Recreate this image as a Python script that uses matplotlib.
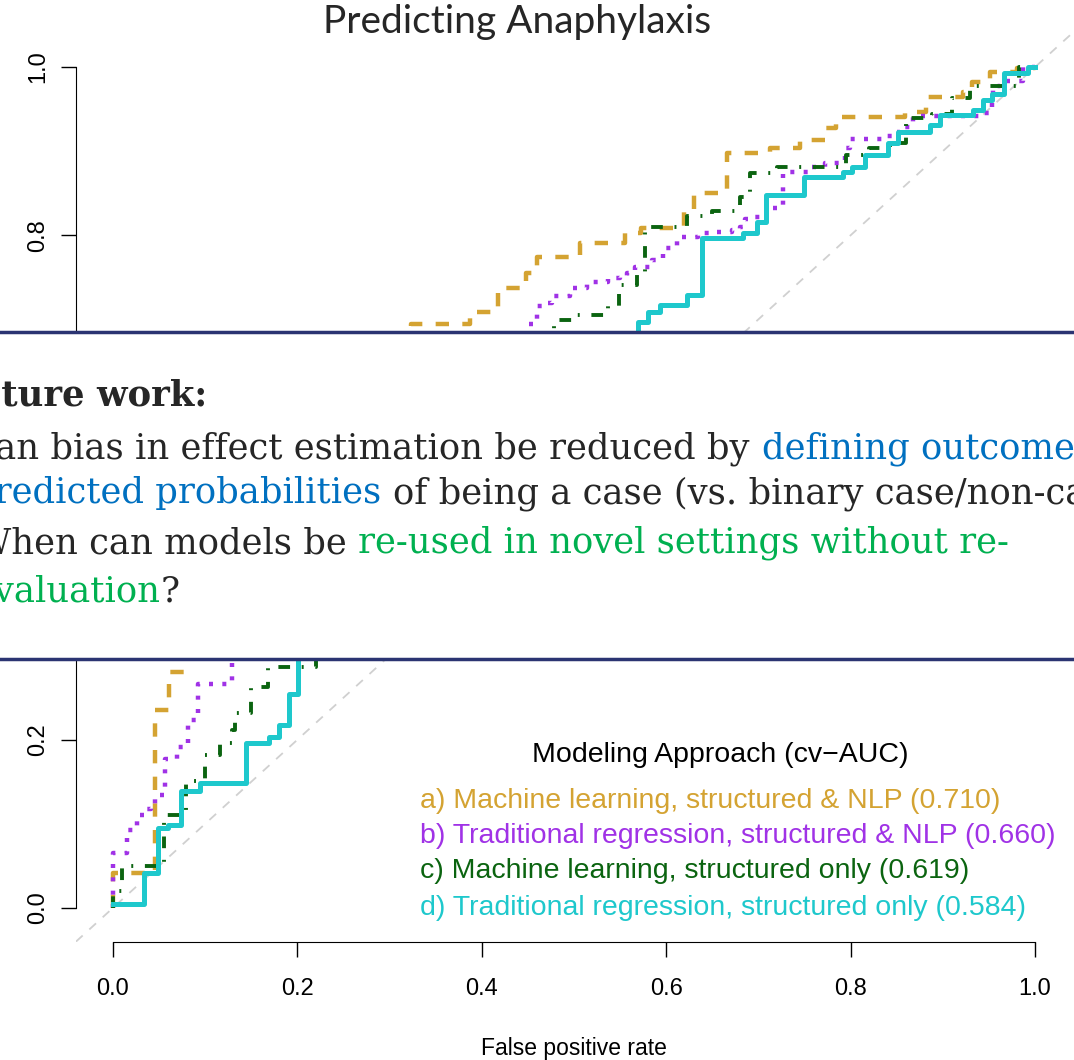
import matplotlib
matplotlib.use('Agg')
import matplotlib.pyplot as plt
from matplotlib.patches import Rectangle

W, H = 1074, 1060

# ROC step corners (fpr, tpr)
fpr_a = [0, 0, 0.046, 0.061, 0.077, 0.15, 0.25, 0.323, 0.387, 0.418, 0.448, 0.460, 0.507, 0.555,
         0.573, 0.619, 0.630, 0.666, 0.713, 0.745, 0.773, 0.784, 0.859, 0.882, 0.922, 0.932,
         0.951, 0.980, 1.0]
tpr_a = [0, 0.042, 0.235, 0.281, 0.36, 0.50, 0.62, 0.694, 0.709, 0.737, 0.755, 0.774, 0.791, 0.803,
         0.809, 0.830, 0.850, 0.898, 0.904, 0.913, 0.928, 0.941, 0.946, 0.964, 0.970, 0.982,
         0.994, 0.999, 1.0]

fpr_b = [0, 0, 0.015, 0.026, 0.035, 0.041, 0.046, 0.056, 0.070, 0.081, 0.092, 0.129, 0.20, 0.30,
         0.40, 0.449, 0.460, 0.471, 0.476, 0.496, 0.514, 0.537, 0.550, 0.557, 0.566, 0.585,
         0.597, 0.612, 0.634, 0.647, 0.671, 0.680, 0.685, 0.696, 0.704, 0.713, 0.727, 0.754,
         0.772, 0.794, 0.799, 0.835, 0.845, 0.854, 0.868, 0.944, 0.953, 0.954, 0.962, 0.987, 1.0]
tpr_b = [0, 0.065, 0.093, 0.111, 0.118, 0.124, 0.134, 0.177, 0.191, 0.224, 0.266, 0.33, 0.45, 0.56,
         0.65, 0.694, 0.716, 0.719, 0.728, 0.737, 0.744, 0.749, 0.751, 0.755, 0.762, 0.770,
         0.785, 0.798, 0.803, 0.804, 0.806, 0.810, 0.819, 0.822, 0.827, 0.832, 0.875, 0.881,
         0.886, 0.904, 0.914, 0.918, 0.923, 0.929, 0.942, 0.945, 0.966, 0.977, 0.983, 1.0, 1.0]

fpr_c = [0, 0, 0.010, 0.055, 0.079, 0.100, 0.116, 0.129, 0.132, 0.150, 0.168, 0.22, 0.32, 0.42,
         0.478, 0.501, 0.537, 0.549, 0.568, 0.577, 0.623, 0.650, 0.680, 0.691, 0.720, 0.795,
         0.820, 0.843, 0.860, 0.888, 0.910, 0.929, 0.982, 1.0]
tpr_c = [0, 0.02, 0.050, 0.111, 0.151, 0.182, 0.196, 0.212, 0.232, 0.263, 0.287, 0.40, 0.52, 0.63,
         0.699, 0.705, 0.716, 0.741, 0.754, 0.810, 0.823, 0.829, 0.846, 0.874, 0.881, 0.895,
         0.904, 0.910, 0.939, 0.944, 0.963, 0.977, 1.0, 1.0]

fpr_d = [0, 0.034, 0.049, 0.060, 0.074, 0.094, 0.144, 0.169, 0.180, 0.191, 0.201, 0.30, 0.45,
         0.569, 0.580, 0.593, 0.623, 0.639, 0.683, 0.698, 0.708, 0.749, 0.792, 0.801, 0.816,
         0.841, 0.851, 0.886, 0.897, 0.933, 0.944, 0.953, 0.966, 0.992, 1.0]
tpr_d = [0.005, 0.042, 0.095, 0.099, 0.139, 0.149, 0.196, 0.203, 0.218, 0.254, 0.33, 0.45, 0.60,
         0.697, 0.709, 0.717, 0.729, 0.797, 0.803, 0.816, 0.848, 0.869, 0.875, 0.881, 0.895,
         0.910, 0.923, 0.931, 0.943, 0.949, 0.961, 0.968, 0.993, 1.0, 1.0]

labels = ['a) Machine learning, structured & NLP (0.710)',
          'b) Traditional regression, structured & NLP (0.660)',
          'c) Machine learning, structured only (0.619)',
          'd) Traditional regression, structured only (0.584)']
colors = ['#D4A332', '#A032E6', '#0B6410', '#1EC8CC']
ticks = [0.0, 0.2, 0.4, 0.6, 0.8, 1.0]
yticklabels = ['0.0', '0.2', '', '', '0.8', '1.0']  # 0.4 / 0.6 sit under the text box

fig = plt.figure(figsize=(W / 100, H / 100), dpi=100)

def fx(x):
    return x / W

def fy(y):
    return 1 - y / H

ax = fig.add_axes([fx(76), fy(941.6), (1072 - 76) / W, (941.6 - 33.4) / H])
ax.set_xlim(-0.04, 1.04)
ax.set_ylim(-0.04, 1.04)

ax.plot([-0.04, 1.04], [-0.04, 1.04], color='#d0d0d0', lw=1.3, ls=(0, (5, 5)))

ax.step(fpr_a, tpr_a, where='post', color=colors[0], lw=3.2, dashes=(3, 3))
ax.step(fpr_b, tpr_b, where='post', color=colors[1], lw=3.2, dashes=(0.9, 2.1))
ax.step(fpr_c, tpr_c, where='post', color=colors[2], lw=2.8, dashes=(3, 3, 0.5, 3))
ax.step(fpr_d, tpr_d, where='post', color=colors[3], lw=3.6)

for s in ['top', 'right']:
    ax.spines[s].set_visible(False)
ax.spines['left'].set_bounds(0, 1)
ax.spines['bottom'].set_bounds(0, 1)
ax.set_xticks(ticks)
ax.set_xticklabels(['%.1f' % t for t in ticks], fontname='Liberation Sans', fontsize=17)
ax.set_yticks(ticks)
ax.set_yticklabels(yticklabels, fontname='Liberation Sans', fontsize=17,
                   rotation=90, va='center')
ax.tick_params(axis='x', length=11, width=1, pad=15)
ax.tick_params(axis='y', length=11, width=1, pad=8)
ax.set_xlabel('False positive rate', fontname='Liberation Sans', fontsize=16.5, labelpad=27)

# legend as coloured text
fig.text(fx(720), fy(755), 'Modeling Approach (cv\u2212AUC)', ha='center', va='center',
         fontname='Liberation Sans', fontsize=20.5, color='black')
for lab, col, yy in zip(labels, colors, [801, 836, 871, 908]):
    fig.text(fx(420), fy(yy), lab, ha='left', va='center', fontname='Liberation Sans',
             fontsize=20.5, color=col)

fig.text(fx(517), fy(22), 'Predicting Anaphylaxis', ha='center', va='center',
         fontname='Lato', fontsize=28, color='#262626')

# slide text box laid over the middle of the plot
navy = '#2B3472'
fig.patches.append(Rectangle((0, fy(659)), 1, fy(332) - fy(659), transform=fig.transFigure,
                             facecolor='white', edgecolor='none', zorder=5))
fig.add_artist(plt.Line2D([0, 1], [fy(332), fy(332)], transform=fig.transFigure,
                          color=navy, lw=2.5, zorder=6))
fig.add_artist(plt.Line2D([0, 1], [fy(659), fy(659)], transform=fig.transFigure,
                          color=navy, lw=2.5, zorder=6))

dark = '#262626'
blue = '#0070C0'
green = '#00B050'
serif = 'DejaVu Serif'
fs = 25.5
# (text, colour, anchor x, alignment, baseline y, bold)
pieces = [
    ('Future work:', dark, 207, 'right', 405, True),
    ('Can bias in effect estimation be reduced by', dark, 750, 'right', 458, False),
    ('defining outcomes as', blue, 762, 'left', 458, False),
    ('predicted probabilities', blue, 381, 'right', 503, False),
    ('of being a case (vs. binary case/non-case)?', dark, 393, 'left', 503, False),
    ('When can models be', dark, 347, 'right', 553, False),
    ('re-used in novel settings without re-', green, 358, 'left', 553, False),
    ('evaluation', green, 160, 'right', 602, False),
    ('?', dark, 161, 'left', 602, False),
]
for txt, col, x, ha, y, bold in pieces:
    fig.text(fx(x), fy(y), txt, ha=ha, va='baseline', color=col, fontname=serif,
             fontsize=fs, fontweight='bold' if bold else 'normal', zorder=7)

fig.savefig('out.png', dpi=100)
